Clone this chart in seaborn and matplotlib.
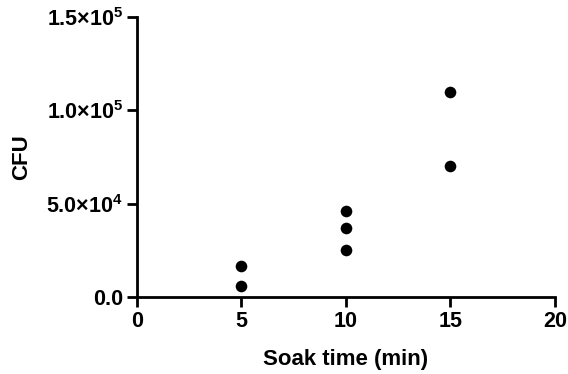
import pandas as pd
import matplotlib
matplotlib.use("Agg")
import matplotlib.pyplot as plt
import seaborn as sns
from matplotlib.ticker import FuncFormatter

# values
soak_time = [5, 5, 10, 10, 10, 15, 15]
cfu = [16500, 6000, 46000, 37000, 25000, 110000, 70000]

x_ticks = [0, 5, 10, 15, 20]
y_ticks = [0, 50000, 100000, 150000]

df = pd.DataFrame({"Soak time (min)": soak_time, "CFU": cfu})

sns.set_style("ticks")
plt.rcParams["font.family"] = ["Liberation Sans", "DejaVu Sans"]
plt.rcParams["font.weight"] = "bold"
plt.rcParams["mathtext.default"] = "regular"

fig = plt.figure(figsize=(5.68, 3.74), dpi=100)
ax = fig.add_axes([0.241, 0.206, 0.736, 0.749])

sns.scatterplot(x="Soak time (min)", y="CFU", data=df, ax=ax,
                color="black", s=70, edgecolor="black", linewidth=0, clip_on=False)


def sci(v, pos):
  if v == 0:
    return "0.0"
  e = len(str(int(v))) - 1
  m = v / 10 ** e
  return f"{m:.1f}×10$^{{{e}}}$"


ax.set_xlim(0, 20)
ax.set_ylim(0, 150000)
ax.set_xticks(x_ticks)
ax.set_yticks(y_ticks)
ax.yaxis.set_major_formatter(FuncFormatter(sci))

for side in ["top", "right"]:
  ax.spines[side].set_visible(False)
for side in ["left", "bottom"]:
  ax.spines[side].set_linewidth(2)
  ax.spines[side].set_color("black")
ax.tick_params(width=2, length=7, direction="out", labelsize=15.5, pad=3,
               color="black", labelcolor="black")
for lab in ax.get_xticklabels() + ax.get_yticklabels():
  lab.set_fontweight("bold")

ax.set_xlabel("Soak time (min)", fontsize=16, fontweight="bold", labelpad=12, color="black")
ax.set_ylabel("CFU", fontsize=16, fontweight="bold", labelpad=10, color="black")

plt.savefig("out.png", dpi=100)
